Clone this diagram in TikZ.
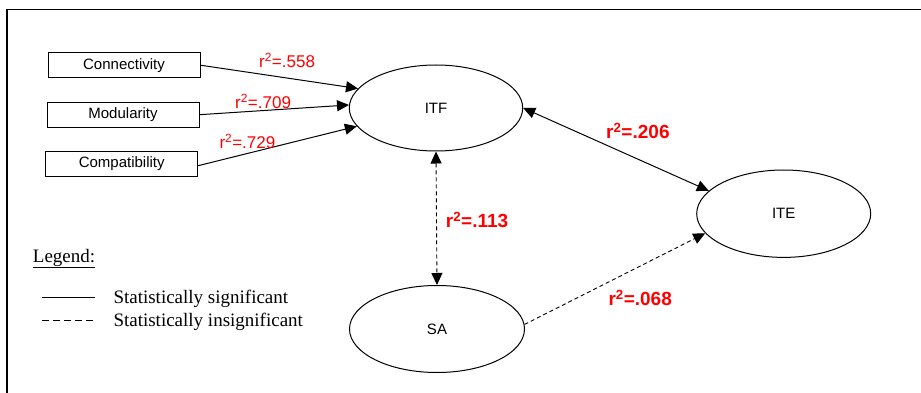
\documentclass[tikz,border=0pt]{standalone}
\usepackage{fontspec}
\setmainfont{Liberation Serif}
\newfontfamily\arialfont{Liberation Sans}
\usetikzlibrary{shapes.geometric,arrows.meta}

\tikzset{
  x=1pt, y=-1pt,
  measure/.style={draw=black, line width=1pt, minimum width=152pt, minimum height=25pt,
    inner sep=0pt, font=\arialfont\fontsize{15}{18}\selectfont},
  construct/.style={ellipse, draw=black, line width=1pt, inner sep=0pt,
    font=\arialfont\fontsize{15}{18}\selectfont},
  coef/.style={anchor=base west, inner sep=0pt, text=red, font=\arialfont\fontsize{17}{20}\selectfont},
  coefbold/.style={anchor=base west, inner sep=0pt, text=red, font=\arialfont\bfseries\fontsize{19}{22}\selectfont},
  legendtext/.style={anchor=base west, inner sep=0pt, font=\fontsize{19}{22}\selectfont},
  tip/.style={-{Triangle[length=12pt,width=11pt]}},
  twotips/.style={{Triangle[length=12pt,width=11pt]}-{Triangle[length=12pt,width=11pt]}},
  conn/.style={line width=1pt},
  dashconn/.style={line width=0.9pt, dash pattern=on 4pt off 3pt},
}

\begin{document}
\begin{tikzpicture}
\useasboundingbox (0,0) rectangle (921,393);

% frame
\draw[line width=1.5pt] (7,393) -- (7,9.5) -- (921,9.5);

% measured variables
\node[measure] (conn) at (124,65.2) {Connectivity};
\node[measure] (modu) at (123,114.7) {Modularity};
\node[measure] (comp) at (121.7,163.7) {Compatibility};

% latent constructs
\node[construct, minimum width=173.4pt, minimum height=86pt] (itf) at (436,108) {ITF};
\node[construct, minimum width=174pt, minimum height=87.4pt] (ite) at (783.7,213.7) {ITE};
\node[construct, minimum width=175pt, minimum height=87pt] (sa) at (437,329) {SA};

% paths
\draw[conn, tip] (conn.east) -- (itf.166);
\draw[conn, tip] (modu.east) -- (itf.178);
\draw[conn, tip] ([yshift=-2pt]comp.east) -- (itf.193.7);
\draw[conn, twotips] (itf.east) -- (ite.163.8);
\draw[dashconn, twotips] (itf.south) -- (sa.north);
\draw[dashconn, tip] (sa.3) -- (ite.194.5);

% coefficients
\node[coef] (c1) at (259,67.7) {r\textsuperscript{2}=.558};
\node[coef] (c2) at (235,108.3) {r\textsuperscript{2}=.709};
\node[coef] (c3) at (219.3,148.3) {r\textsuperscript{2}=.729};
\node[coefbold] (c4) at (606,138.3) {r\textsuperscript{2}=.206};
\node[coefbold] (c5) at (445.7,227.7) {r\textsuperscript{2}=.113};
\node[coefbold] (c6) at (608.3,305.7) {r\textsuperscript{2}=.068};

% legend
\node[legendtext] (lg) at (32.7,262) {\underline{Legend:}};
\coordinate (s1) at (42,297.3);
\coordinate (s2) at (95,297.3);
\coordinate (d1) at (42,320.7);
\coordinate (d2) at (95,320.7);
\draw[line width=1pt] (s1) -- (s2);
\draw[line width=1pt, dash pattern=on 7pt off 4pt] (d1) -- (d2);
\node[legendtext] (l1) at (113.3,303.3) {Statistically significant};
\node[legendtext] (l2) at (113.3,326.7) {Statistically insignificant};
\end{tikzpicture}
\end{document}
